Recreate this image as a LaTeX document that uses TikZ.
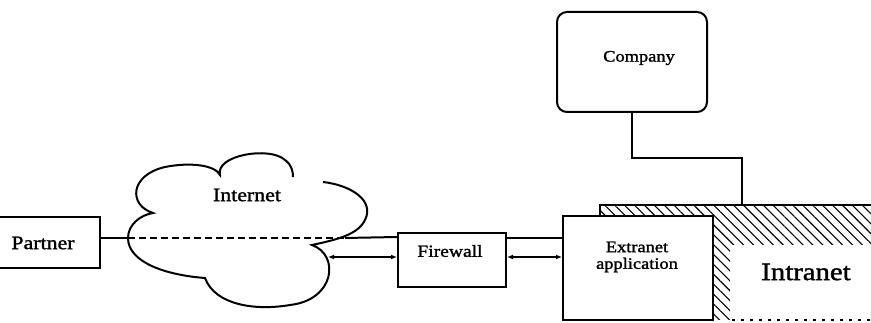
\documentclass[tikz,border=0pt]{standalone}
\usepackage{fontspec}
\setmainfont{Liberation Serif}
\newfontfamily\widefont[FakeStretch=1.15,FakeBold=1.5]{Liberation Serif}
\usetikzlibrary{patterns.meta,arrows.meta,calc}
\begin{document}
\begin{tikzpicture}[x=1pt,y=-1pt,
  box/.style={draw, line width=2pt, fill=white, inner sep=0pt},
  lbl/.style={inner sep=0pt},
  conn/.style={line width=2pt},
  dbl/.style={line width=1.6pt, {Latex[length=6pt,width=5pt]}-{Latex[length=6pt,width=5pt]}},
  ]
\useasboundingbox[fill=white] (0,0) rectangle (871,323);

% Intranet hatched band
\fill[pattern={Lines[angle=-45,distance=7pt,line width=1.1pt]}]
  (600,205) -- (871,205) -- (871,245) -- (730,245) -- (730,320) -- (713,320) -- (713,216) -- (600,216) -- cycle;
\draw[conn] (600,216) -- (600,205) -- (871,205);
\draw[line width=2pt, dash pattern=on 3pt off 6pt] (732,320) -- (871,320);

% Cloud
\draw[conn, fill=white]
  (323,182) .. controls (350,185) and (375,200) .. (365,220)
  .. controls (358,235) and (335,240) .. (312,245)
  .. controls (340,255) and (335,300) .. (290,305)
  .. controls (255,311) and (215,305) .. (205,278)
  .. controls (165,275) and (128,262) .. (128,238)
  .. controls (128,225) and (140,215) .. (153,213)
  .. controls (128,205) and (130,175) .. (165,167)
  .. controls (190,162) and (215,165) .. (220,175)
  .. controls (215,155) and (270,146) .. (285,160)
  .. controls (292,165) and (293,172) .. (293,177);

% Boxes
\node[box, minimum width=106pt, minimum height=51pt] (partner) at (47,242.5) {};
\node[box, minimum width=108pt, minimum height=54pt] (firewall) at (452,260) {};
\node[box, minimum width=150pt, minimum height=104pt] (extranet) at (638,268) {};
\node[box, rounded corners=10pt, minimum width=150pt, minimum height=100pt] (company) at (632,62) {};

% Connectors
\coordinate (cL) at (128,238);
\coordinate (cR) at (345,238);
\coordinate (cLow) at (328,257);
\coordinate (iTop) at (742,205);
\draw[conn] (partner.east |- cL) -- (cL);
\draw[conn, dash pattern=on 7pt off 4pt] (cL) -- (cR);
\draw[conn] (cR) -- ($(firewall.north west)+(0,5)$);
\draw[conn] ($(firewall.north east)+(0,6)$) -- ($(extranet.west |- firewall.north east)+(0,6)$);
\draw[dbl] (cLow) -- (firewall.west |- cLow);
\draw[dbl] ($(firewall.east)+(0,-3)$) -- ($(extranet.west |- firewall.east)+(0,-3)$);
\draw[conn] (company.south) -- ++(0,45) -| (iTop);

% Labels
\node[lbl, font=\widefont\fontsize{19}{21}\selectfont] (partnerText) at (43,243) {Partner};
\node[lbl, font=\widefont\fontsize{19}{21}\selectfont] (internetText) at (247,195) {Internet};
\node[lbl, font=\widefont\fontsize{17}{19}\selectfont] (firewallText) at (450,251) {Firewall};
\node[lbl, font=\widefont\fontsize{16}{18}\selectfont] (extranetText1) at (637,247) {Extranet};
\node[lbl, font=\widefont\fontsize{16}{18}\selectfont] (extranetText2) at (637,265) {application};
\node[lbl, font=\widefont\fontsize{16}{18}\selectfont] (companyText) at (639,58) {Company};
\node[lbl, font=\widefont\fontsize{25}{27}\selectfont] (intranetText) at (806,272) {Intranet};
\end{tikzpicture}
\end{document}
